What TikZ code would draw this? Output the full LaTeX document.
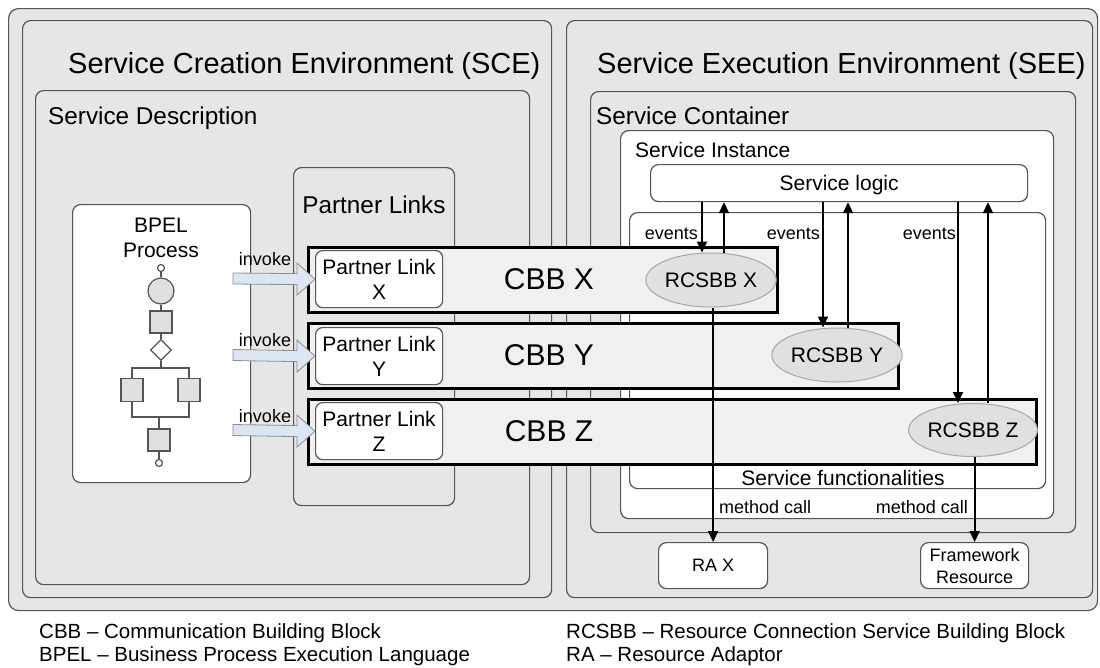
\documentclass[tikz,border=0pt]{standalone}
\usepackage{fontspec}
\setmainfont{Liberation Sans}
\usetikzlibrary{shapes.geometric,arrows.meta,calc}
\definecolor{bgray}{HTML}{E6E6E6}
\definecolor{bord}{HTML}{555555}
\definecolor{cbbfill}{HTML}{F0F0F0}
\definecolor{ellfill}{HTML}{E0E0E0}
\definecolor{ellbord}{HTML}{A8A8A8}
\definecolor{invfill}{HTML}{DCE6F2}
\definecolor{invbord}{HTML}{8E8E8E}
\definecolor{shpfill}{HTML}{E0E0E0}
\newcommand\fsT{\fontsize{29}{34}\selectfont}
\newcommand\fsL{\fontsize{24.3}{28}\selectfont}
\newcommand\fsM{\fontsize{21}{25}\selectfont}
\newcommand\fsS{\fontsize{18}{22}\selectfont}
\newcommand\fsC{\fontsize{30}{34}\selectfont}
\newcommand\fsG{\fontsize{20.5}{24}\selectfont}
\newcommand\invarrow[2]{%
  \path[invk] ($(#1)+(0,-5.5)$) -- ($(#2.west)+(-18,-5.5)$) -- ($(#2.west)+(-18,-16)$)
    -- (#2.west) -- ($(#2.west)+(-18,16)$) -- ($(#2.west)+(-18,5.5)$)
    -- ($(#1)+(0,5.5)$) -- cycle;}
\begin{document}
\begin{tikzpicture}[x=1pt,y=-1pt,
  box/.style={draw=bord,line width=1.2pt,rounded corners=8pt,anchor=north west,inner sep=0pt},
  graybox/.style={box,fill=bgray},
  whitebox/.style={box,fill=white},
  cbb/.style={draw=black,line width=3.2pt,fill=cbbfill,anchor=north west,inner sep=0pt},
  ell/.style={ellipse,draw=ellbord,line width=1pt,fill=ellfill,inner sep=0pt,
    minimum width=113pt,minimum height=54pt,font=\fsM},
  arr/.style={line width=2pt,-{Triangle[length=11pt,width=10pt]}},
  invk/.style={draw=invbord,line width=0.8pt,fill=invfill,line join=miter},
  shp/.style={draw=bord,line width=1.2pt,fill=shpfill,inner sep=0pt},
  shl/.style={draw=bord,line width=1.2pt},
  lbl/.style={anchor=base,inner sep=0pt}
]
\fill[white] (0,0) rectangle (1100,667);
\useasboundingbox (0,0) rectangle (1100,667);

% containers
\node[graybox,rounded corners=10pt,minimum width=1089pt,minimum height=602pt] (outer) at (8,8) {};
\node[graybox,minimum width=529pt,minimum height=577pt] (sce) at (22,20) {};
\node[graybox,minimum width=526pt,minimum height=577pt] (see) at (566,20) {};
\node[graybox,minimum width=494pt,minimum height=494pt] (sd) at (35,90) {};
\node[graybox,minimum width=485pt,minimum height=441pt] (sc) at (590,91) {};
\node[whitebox,minimum width=178pt,minimum height=278pt] (bpel) at (72,204) {};
\node[graybox,minimum width=161pt,minimum height=338pt] (pl) at (293,167) {};
\node[whitebox,minimum width=433pt,minimum height=388pt] (si) at (620,130) {};
\node[whitebox,minimum width=416pt,minimum height=276pt] (sf) at (629,212) {};
\node[whitebox,minimum width=377pt,minimum height=37pt,font=\fsM,text depth=0pt] (sl) at (650,164) {Service logic};

% titles
\node[lbl,anchor=base west,font=\fsT] (tsce) at (68,73) {Service Creation Environment (SCE)};
\node[lbl,anchor=base west,font=\fsT] (tsee) at (597,73) {Service Execution Environment (SEE)};
\node[lbl,anchor=base west,font=\fsL] (tsd) at (48,124) {Service Description};
\node[lbl,anchor=base west,font=\fsL] (tsc) at (596,124) {Service Container};
\node[lbl,anchor=base west,font=\fsM] (tsi) at (635,157) {Service Instance};
\node[lbl,font=\fsL] (tpl) at (374,213) {Partner Links};
\node[font=\fsM,align=center,inner sep=0pt] (tbp) at (161,238) {BPEL\\Process};
\node[lbl,font=\fsM] (tsf) at (843,485) {Service functionalities};

% BPEL process flow
\node[circle,draw=bord,line width=1.2pt,fill=white,minimum size=7pt,inner sep=0pt] (b0) at (161,268) {};
\node[shp,circle,minimum size=26pt] (b1) at (161,291) {};
\node[shp,minimum width=22pt,minimum height=22pt] (b2) at (161,322) {};
\node[shp,diamond,fill=white,minimum width=21pt,minimum height=21pt] (b3) at (161,350) {};
\node[shp,minimum width=22pt,minimum height=23pt] (b4) at (132,390) {};
\node[shp,minimum width=22pt,minimum height=23pt] (b5) at (189,390) {};
\node[shp,minimum width=22pt,minimum height=22pt] (b6) at (159,440) {};
\node[circle,draw=bord,line width=1.2pt,fill=white,minimum size=7pt,inner sep=0pt] (b7) at (159,463) {};
\coordinate (fk) at (161,368);
\coordinate (jn) at (159,417);
\draw[shl] (b0) -- (b1);
\draw[shl] (b1) -- (b2);
\draw[shl] (b2) -- (b3);
\draw[shl] (b3.south) -- (fk);
\draw[shl] (b4.north) -- (b4.north |- fk) -- (b5.north |- fk) -- (b5.north);
\draw[shl] (b4.south) -- (b4.south |- jn) -- (b5.south |- jn) -- (b5.south);
\draw[shl] (b6.north |- jn) -- (b6.north);
\draw[shl] (b6) -- (b7);

% CBBs
\node[cbb,minimum width=469pt,minimum height=65pt] (cbbx) at (307,246) {};
\node[cbb,minimum width=590pt,minimum height=65pt] (cbby) at (307,322) {};
\node[cbb,minimum width=728pt,minimum height=65pt] (cbbz) at (307,398) {};
\node[lbl,font=\fsC] (lx) at (549,289) {CBB X};
\node[lbl,font=\fsC] (ly) at (549,365) {CBB Y};
\node[lbl,font=\fsC] (lz) at (549,441) {CBB Z};

% partner links
\node[whitebox,rounded corners=7pt,minimum width=127pt,minimum height=57pt,font=\fsM,align=center] (plx) at (315,250) {Partner Link\\X};
\node[whitebox,rounded corners=7pt,minimum width=127pt,minimum height=57pt,font=\fsM,align=center] (ply) at (315,327) {Partner Link\\Y};
\node[whitebox,rounded corners=7pt,minimum width=127pt,minimum height=57pt,font=\fsM,align=center] (plz) at (315,402) {Partner Link\\Z};

% RCSBBs
\node[ell] (rx) at (711,280) {RCSBB X};
\node[ell] (ry) at (837,355) {RCSBB Y};
\node[ell,minimum width=112pt,minimum height=53pt] (rz) at (973,430) {RCSBB Z};

% resources
\node[whitebox,minimum width=109pt,minimum height=46pt,font=\fsS] (rax) at (658,542) {RA X};
\node[whitebox,minimum width=108pt,minimum height=46pt,font=\fsS,align=center] (fr) at (920,542) {Framework\\Resource};

% invoke arrows
\coordinate (ix) at (233,278.5);
\coordinate (iy) at (233,355);
\coordinate (iz) at (233,430);
\invarrow{ix}{plx}
\invarrow{iy}{ply}
\invarrow{iz}{plz}
\node[lbl,font=\fsS] (ivx) at (265,265) {invoke};
\node[lbl,font=\fsS] (ivy) at (265,346) {invoke};
\node[lbl,font=\fsS] (ivz) at (265,422) {invoke};

% event arrows
\coordinate (ex1) at (702,0);
\coordinate (ex2) at (724,0);
\coordinate (ey1) at (823,0);
\coordinate (ey2) at (848,0);
\coordinate (ez1) at (958,0);
\coordinate (ez2) at (988,0);
\draw[arr] (sl.south -| ex1) -- (rx.north -| ex1);
\draw[arr] (rx.north -| ex2) -- (sl.south -| ex2);
\draw[arr] (sl.south -| ey1) -- (ry.north -| ey1);
\draw[arr] (ry.north -| ey2) -- (sl.south -| ey2);
\draw[arr] (sl.south -| ez1) -- (rz.north -| ez1);
\draw[arr] (rz.north -| ez2) -- (sl.south -| ez2);
\node[lbl,anchor=base east,font=\fsS] (evx) at (698,239) {events};
\node[lbl,anchor=base east,font=\fsS] (evy) at (820,239) {events};
\node[lbl,anchor=base east,font=\fsS] (evz) at (956,239) {events};

% method calls
\draw[arr] (rx.south -| rax.north) -- (rax.north);
\draw[arr] (rz.south -| fr.north) -- (fr.north);
\node[lbl,anchor=base west,font=\fsS] (mc1) at (719,513) {method call};
\node[lbl,anchor=base east,font=\fsS] (mc2) at (968,513) {method call};

% legend
\node[lbl,anchor=base west,font=\fsG] (lg1) at (39,638) {CBB – Communication Building Block};
\node[lbl,anchor=base west,font=\fsG] (lg2) at (39,661) {BPEL – Business Process Execution Language};
\node[lbl,anchor=base west,font=\fsG] (lg3) at (566,638) {RCSBB – Resource Connection Service Building Block};
\node[lbl,anchor=base west,font=\fsG] (lg4) at (566,661) {RA – Resource Adaptor};
\end{tikzpicture}
\end{document}
